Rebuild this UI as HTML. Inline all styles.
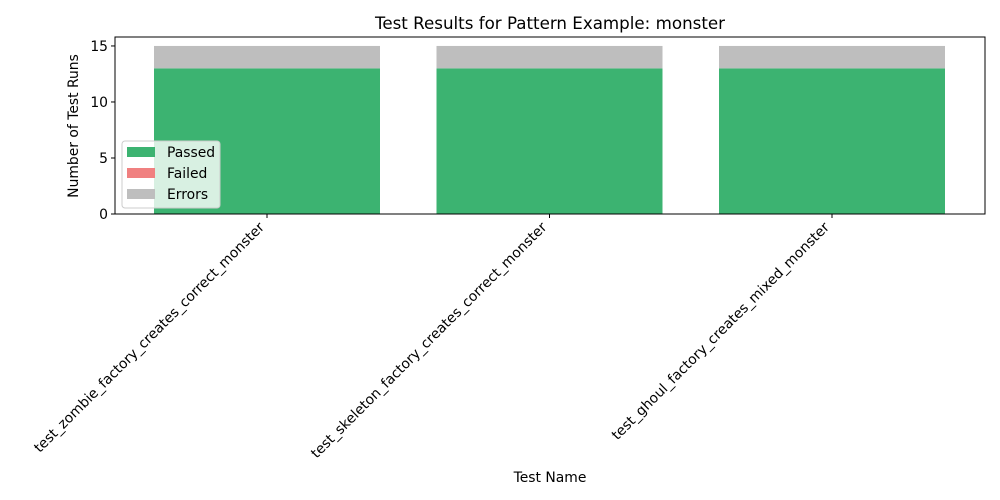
<!DOCTYPE html>
<html><head><meta charset="utf-8"><style>
html,body{margin:0;padding:0;background:#fff}
svg{display:block;font-family:"DejaVu Sans","Liberation Sans",sans-serif}
</style></head><body>
<svg id="chart" width="1000" height="500" viewBox="0 0 1000 500">
<text x="550" y="29" font-size="16.7" text-anchor="middle" fill="#000">Test Results for Pattern Example: monster</text>
<g id="bars"></g>
<g id="axes"></g>
<text x="550" y="482" font-size="13.9" text-anchor="middle">Test Name</text>
<text transform="translate(78,126) rotate(-90)" font-size="13.9" text-anchor="middle">Number of Test Runs</text>
<g>
<rect x="122" y="141" width="98" height="67" rx="3" fill="#fff" fill-opacity="0.8" stroke="#ccc"/>
<g><rect x="127" y="147" width="28" height="10" fill="#3cb371"/><text x="167" y="157" font-size="13.9">Passed</text></g>
<g><rect x="127" y="168" width="28" height="10" fill="#f08080"/><text x="167" y="178" font-size="13.9">Failed</text></g>
<g><rect x="127" y="189" width="28" height="10" fill="#bebebe"/><text x="167" y="199" font-size="13.9">Errors</text></g>
</g>
</svg>
<script>
const categories = ["test_zombie_factory_creates_correct_monster","test_skeleton_factory_creates_correct_monster","test_ghoul_factory_creates_mixed_monster"];
const passed = [13,13,13];
const failed = [0,0,0];
const errors = [2,2,2];
const yTicks = [0,5,10,15];
const NS="http://www.w3.org/2000/svg";
const L=115,R=985,T=37,B=214;
const yMax=15.8;
function y(v){return B-(v/yMax)*(B-T);}
function xc(i){return 267+i*282.5;}
const bw=226;
const bars=document.getElementById('bars'), axes=document.getElementById('axes');
function mk(tag,attrs,parent){const e=document.createElementNS(NS,tag);for(const k in attrs)e.setAttribute(k,attrs[k]);parent.appendChild(e);return e;}
categories.forEach((c,i)=>{
  const series=[[passed[i],'#3cb371','passed'],[failed[i],'#f08080','failed'],[errors[i],'#bebebe','errors']];
  let base=0;
  series.forEach(s=>{
    if(s[0]>0){
      const r=mk('rect',{x:xc(i)-bw/2,y:y(base+s[0]),width:bw,height:y(base)-y(base+s[0]),fill:s[1]},bars);
      
      
    }
    base+=s[0];
  });
  const t=mk('line',{x1:xc(i),x2:xc(i),y1:B,y2:B+4,stroke:'#000'},axes);
  
  
  const tx=mk('text',{transform:`translate(${xc(i)-2},228) rotate(-45)`,'text-anchor':'end','font-size':'13.9'},axes);
  tx.textContent=c;
  
  
});
yTicks.forEach(v=>{
  const t=mk('line',{x1:L-4,x2:L,y1:y(v),y2:y(v),stroke:'#000'},axes);
  
  
  const tx=mk('text',{x:L-7,y:y(v)+5,'text-anchor':'end','font-size':'13.9'},axes);
  tx.textContent=v;
  
  
});
const f=mk('rect',{x:L,y:T,width:R-L,height:B-T,fill:'none',stroke:'#000','stroke-width':1},axes);


</script>
</body></html>
